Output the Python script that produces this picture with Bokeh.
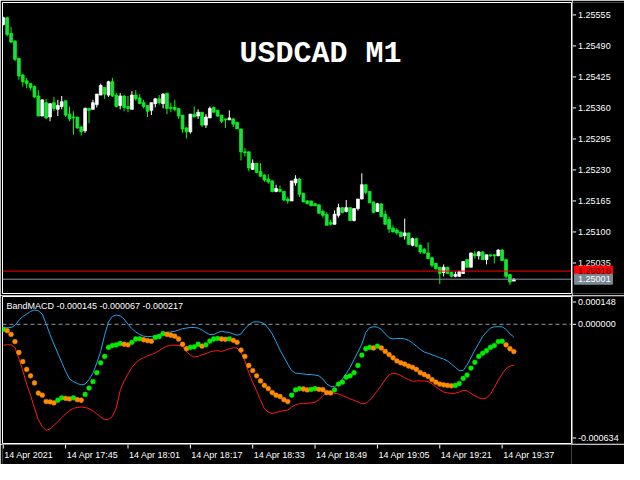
import numpy as np
from bokeh.plotting import figure
from bokeh.layouts import column, row
from bokeh.models import Range1d, Span, Label, ColumnDataSource
from bokeh.core.properties import value
from bokeh.embed import file_html
from bokeh.resources import INLINE

# ---------------- data ----------------
symbol_title = "USDCAD M1"
indicator_name = "BandMACD"

opens = [1.25535, 1.25549, 1.25516, 1.25500, 1.25464, 1.25429, 1.25417, 1.25411, 1.25405, 1.25385,
         1.25343, 1.25371, 1.25341, 1.25371, 1.25357, 1.25363, 1.25375, 1.25347, 1.25341, 1.25341,
         1.25320, 1.25312, 1.25359, 1.25357, 1.25367, 1.25387, 1.25403, 1.25387, 1.25415, 1.25387,
         1.25365, 1.25385, 1.25363, 1.25357, 1.25387, 1.25381, 1.25371, 1.25365, 1.25355, 1.25369,
         1.25379, 1.25369, 1.25391, 1.25361, 1.25361, 1.25359, 1.25345, 1.25318, 1.25310, 1.25347,
         1.25343, 1.25351, 1.25324, 1.25339, 1.25361, 1.25355, 1.25345, 1.25337, 1.25335, 1.25337,
         1.25330, 1.25316, 1.25268, 1.25268, 1.25231, 1.25244, 1.25227, 1.25219, 1.25211, 1.25207,
         1.25185, 1.25189, 1.25185, 1.25169, 1.25165, 1.25203, 1.25211, 1.25181, 1.25165, 1.25165,
         1.25159, 1.25157, 1.25143, 1.25137, 1.25120, 1.25116, 1.25135, 1.25151, 1.25143, 1.25151,
         1.25124, 1.25149, 1.25169, 1.25199, 1.25185, 1.25163, 1.25143, 1.25159, 1.25137, 1.25126,
         1.25108, 1.25104, 1.25100, 1.25092, 1.25098, 1.25072, 1.25086, 1.25072, 1.25064, 1.25056,
         1.25046, 1.25034, 1.25026, 1.25015, 1.25026, 1.25015, 1.25007, 1.25007, 1.25013, 1.25042,
         1.25026, 1.25054, 1.25050, 1.25058, 1.25042, 1.25052, 1.25052, 1.25050, 1.25062, 1.25042,
         1.25011, 1.24997]
highs = [1.25551, 1.25551, 1.25530, 1.25502, 1.25464, 1.25431, 1.25423, 1.25411, 1.25407, 1.25397,
         1.25377, 1.25379, 1.25369, 1.25383, 1.25377, 1.25385, 1.25375, 1.25363, 1.25353, 1.25341,
         1.25322, 1.25361, 1.25359, 1.25377, 1.25389, 1.25411, 1.25403, 1.25417, 1.25423, 1.25391,
         1.25391, 1.25387, 1.25385, 1.25395, 1.25397, 1.25389, 1.25377, 1.25365, 1.25371, 1.25381,
         1.25387, 1.25391, 1.25391, 1.25371, 1.25377, 1.25359, 1.25345, 1.25320, 1.25347, 1.25363,
         1.25357, 1.25351, 1.25347, 1.25363, 1.25363, 1.25355, 1.25345, 1.25337, 1.25355, 1.25339,
         1.25330, 1.25316, 1.25276, 1.25268, 1.25252, 1.25244, 1.25244, 1.25221, 1.25221, 1.25209,
         1.25199, 1.25197, 1.25185, 1.25173, 1.25207, 1.25219, 1.25213, 1.25181, 1.25167, 1.25165,
         1.25161, 1.25157, 1.25147, 1.25141, 1.25126, 1.25145, 1.25159, 1.25151, 1.25167, 1.25151,
         1.25149, 1.25169, 1.25223, 1.25199, 1.25185, 1.25163, 1.25161, 1.25159, 1.25145, 1.25132,
         1.25114, 1.25108, 1.25100, 1.25128, 1.25098, 1.25088, 1.25088, 1.25074, 1.25066, 1.25078,
         1.25048, 1.25036, 1.25026, 1.25032, 1.25027, 1.25017, 1.25017, 1.25019, 1.25038, 1.25044,
         1.25056, 1.25060, 1.25060, 1.25060, 1.25052, 1.25052, 1.25052, 1.25064, 1.25064, 1.25044,
         1.25011, 1.25003]
lows = [1.25533, 1.25510, 1.25496, 1.25458, 1.25419, 1.25405, 1.25401, 1.25397, 1.25381, 1.25343,
        1.25343, 1.25337, 1.25332, 1.25353, 1.25343, 1.25357, 1.25341, 1.25332, 1.25304, 1.25316,
        1.25302, 1.25308, 1.25328, 1.25357, 1.25361, 1.25387, 1.25379, 1.25383, 1.25383, 1.25361,
        1.25357, 1.25353, 1.25351, 1.25357, 1.25375, 1.25369, 1.25359, 1.25341, 1.25345, 1.25361,
        1.25367, 1.25359, 1.25347, 1.25351, 1.25353, 1.25337, 1.25308, 1.25296, 1.25306, 1.25341,
        1.25337, 1.25320, 1.25318, 1.25339, 1.25351, 1.25341, 1.25328, 1.25318, 1.25335, 1.25320,
        1.25316, 1.25250, 1.25258, 1.25227, 1.25231, 1.25223, 1.25215, 1.25205, 1.25201, 1.25183,
        1.25183, 1.25183, 1.25165, 1.25159, 1.25165, 1.25197, 1.25173, 1.25163, 1.25159, 1.25155,
        1.25155, 1.25139, 1.25130, 1.25114, 1.25114, 1.25116, 1.25130, 1.25139, 1.25141, 1.25124,
        1.25122, 1.25145, 1.25169, 1.25179, 1.25161, 1.25139, 1.25143, 1.25132, 1.25116, 1.25098,
        1.25100, 1.25094, 1.25090, 1.25084, 1.25074, 1.25070, 1.25068, 1.25054, 1.25054, 1.25044,
        1.25026, 1.25021, 1.24991, 1.25007, 1.25013, 1.25005, 1.25005, 1.25007, 1.25013, 1.25026,
        1.25026, 1.25044, 1.25042, 1.25042, 1.25032, 1.25048, 1.25034, 1.25050, 1.25040, 1.25003,
        1.24989, 1.24997]
closes = [1.25549, 1.25514, 1.25498, 1.25462, 1.25427, 1.25415, 1.25411, 1.25403, 1.25383, 1.25343,
          1.25377, 1.25339, 1.25369, 1.25359, 1.25365, 1.25373, 1.25345, 1.25337, 1.25339, 1.25318,
          1.25310, 1.25359, 1.25355, 1.25371, 1.25389, 1.25407, 1.25389, 1.25415, 1.25385, 1.25363,
          1.25385, 1.25361, 1.25359, 1.25387, 1.25379, 1.25369, 1.25363, 1.25353, 1.25371, 1.25379,
          1.25371, 1.25389, 1.25359, 1.25359, 1.25357, 1.25343, 1.25316, 1.25310, 1.25347, 1.25341,
          1.25351, 1.25324, 1.25341, 1.25359, 1.25351, 1.25343, 1.25332, 1.25335, 1.25339, 1.25326,
          1.25316, 1.25268, 1.25266, 1.25234, 1.25244, 1.25225, 1.25217, 1.25209, 1.25205, 1.25185,
          1.25191, 1.25185, 1.25167, 1.25165, 1.25207, 1.25211, 1.25179, 1.25163, 1.25159, 1.25155,
          1.25155, 1.25139, 1.25135, 1.25114, 1.25116, 1.25137, 1.25151, 1.25141, 1.25151, 1.25124,
          1.25149, 1.25169, 1.25199, 1.25183, 1.25161, 1.25141, 1.25159, 1.25132, 1.25116, 1.25106,
          1.25100, 1.25098, 1.25090, 1.25098, 1.25074, 1.25086, 1.25070, 1.25058, 1.25056, 1.25044,
          1.25030, 1.25023, 1.25013, 1.25026, 1.25013, 1.25007, 1.25011, 1.25017, 1.25038, 1.25026,
          1.25056, 1.25050, 1.25058, 1.25042, 1.25052, 1.25050, 1.25050, 1.25062, 1.25040, 1.25007,
          1.24995, 1.25001]

ask_price = 1.25018
bid_price = 1.25001

# BandMACD: main value, upper band, lower band (one per bar)
macd = [-0.000027, -0.000034, -0.000054, -0.000092, -0.000150, -0.000198, -0.000240, -0.000274, -0.000312, -0.000366,
        -0.000377, -0.000411, -0.000413, -0.000418, -0.000404, -0.000391, -0.000394, -0.000397, -0.000391, -0.000401,
        -0.000404, -0.000373, -0.000339, -0.000305, -0.000257, -0.000205, -0.000171, -0.000123, -0.000113, -0.000109,
        -0.000102, -0.000106, -0.000109, -0.000096, -0.000078, -0.000077, -0.000082, -0.000087, -0.000090, -0.000070,
        -0.000065, -0.000049, -0.000054, -0.000058, -0.000063, -0.000078, -0.000106, -0.000130, -0.000123, -0.000120,
        -0.000106, -0.000116, -0.000109, -0.000089, -0.000078, -0.000075, -0.000078, -0.000080, -0.000077, -0.000085,
        -0.000096, -0.000137, -0.000171, -0.000219, -0.000246, -0.000274, -0.000301, -0.000325, -0.000342, -0.000363,
        -0.000377, -0.000384, -0.000401, -0.000411, -0.000377, -0.000349, -0.000342, -0.000344, -0.000349, -0.000346,
        -0.000342, -0.000346, -0.000348, -0.000363, -0.000365, -0.000349, -0.000318, -0.000308, -0.000281, -0.000274,
        -0.000257, -0.000219, -0.000164, -0.000130, -0.000123, -0.000126, -0.000116, -0.000126, -0.000144, -0.000161,
        -0.000178, -0.000195, -0.000205, -0.000212, -0.000222, -0.000229, -0.000240, -0.000257, -0.000267, -0.000277,
        -0.000294, -0.000308, -0.000318, -0.000322, -0.000325, -0.000327, -0.000325, -0.000315, -0.000288, -0.000270,
        -0.000233, -0.000202, -0.000171, -0.000154, -0.000140, -0.000123, -0.000113, -0.000092, -0.000090, -0.000109,
        -0.000130, -0.000145]
upper = [-0.000018, -0.000018, -0.000017, -0.000006, 0.000021, 0.000042, 0.000054, 0.000069, 0.000076, 0.000072,
         0.000054, 0.000002, -0.000054, -0.000106, -0.000154, -0.000202, -0.000250, -0.000291, -0.000305, -0.000315,
         -0.000322, -0.000318, -0.000294, -0.000260, -0.000205, -0.000144, -0.000058, 0.000014, 0.000042, 0.000049,
         0.000045, 0.000028, 0.000000, -0.000023, -0.000041, -0.000054, -0.000063, -0.000065, -0.000065, -0.000061,
         -0.000054, -0.000048, -0.000042, -0.000041, -0.000037, -0.000030, -0.000023, -0.000020, -0.000017, -0.000017,
         -0.000020, -0.000030, -0.000044, -0.000054, -0.000054, -0.000044, -0.000037, -0.000041, -0.000044, -0.000051,
         -0.000058, -0.000051, -0.000023, -0.000003, 0.000011, 0.000014, 0.000011, 0.000004, -0.000020, -0.000051,
         -0.000092, -0.000137, -0.000174, -0.000212, -0.000246, -0.000260, -0.000262, -0.000264, -0.000267, -0.000267,
         -0.000270, -0.000274, -0.000291, -0.000318, -0.000330, -0.000332, -0.000318, -0.000291, -0.000262, -0.000229,
         -0.000188, -0.000147, -0.000106, -0.000044, -0.000018, -0.000013, -0.000015, -0.000027, -0.000051, -0.000071,
         -0.000078, -0.000075, -0.000075, -0.000078, -0.000085, -0.000099, -0.000116, -0.000133, -0.000147, -0.000154,
         -0.000162, -0.000169, -0.000178, -0.000185, -0.000195, -0.000212, -0.000229, -0.000246, -0.000246, -0.000216,
         -0.000178, -0.000137, -0.000102, -0.000065, -0.000041, -0.000020, -0.000013, -0.000013, -0.000013, -0.000027,
         -0.000051, -0.000067]
lower = [-0.000111, -0.000109, -0.000109, -0.000123, -0.000181, -0.000246, -0.000318, -0.000377, -0.000445, -0.000507,
         -0.000545, -0.000564, -0.000557, -0.000538, -0.000517, -0.000497, -0.000476, -0.000459, -0.000447, -0.000442,
         -0.000440, -0.000442, -0.000449, -0.000461, -0.000476, -0.000493, -0.000507, -0.000507, -0.000490, -0.000444,
         -0.000353, -0.000301, -0.000264, -0.000229, -0.000204, -0.000188, -0.000178, -0.000168, -0.000161, -0.000152,
         -0.000140, -0.000126, -0.000116, -0.000111, -0.000111, -0.000113, -0.000116, -0.000144, -0.000164, -0.000174,
         -0.000171, -0.000162, -0.000156, -0.000147, -0.000142, -0.000140, -0.000144, -0.000138, -0.000130, -0.000125,
         -0.000126, -0.000147, -0.000195, -0.000257, -0.000308, -0.000353, -0.000404, -0.000449, -0.000466, -0.000475,
         -0.000469, -0.000463, -0.000459, -0.000456, -0.000440, -0.000428, -0.000423, -0.000421, -0.000420, -0.000418,
         -0.000415, -0.000401, -0.000380, -0.000363, -0.000363, -0.000367, -0.000370, -0.000379, -0.000387, -0.000397,
         -0.000404, -0.000413, -0.000423, -0.000420, -0.000404, -0.000380, -0.000353, -0.000325, -0.000294, -0.000269,
         -0.000260, -0.000264, -0.000272, -0.000284, -0.000294, -0.000303, -0.000301, -0.000301, -0.000301, -0.000305,
         -0.000317, -0.000332, -0.000348, -0.000360, -0.000365, -0.000367, -0.000367, -0.000360, -0.000351, -0.000353,
         -0.000367, -0.000380, -0.000391, -0.000397, -0.000391, -0.000372, -0.000336, -0.000298, -0.000264, -0.000236,
         -0.000222, -0.000217]

# scales / ticks
price_ticks = [1.25555, 1.25490, 1.25425, 1.25360, 1.25295, 1.25230, 1.25165, 1.25100, 1.25035]
price_min, price_max = 1.24971, 1.25581
ind_min, ind_max = -0.000634, 0.000148
time_tick_bars = [0, 16, 32, 48, 64, 80, 96, 112, 128]
time_tick_labels = ["14 Apr 2021", "14 Apr 17:45", "14 Apr 18:01", "14 Apr 18:17", "14 Apr 18:33",
                    "14 Apr 18:49", "14 Apr 19:05", "14 Apr 19:21", "14 Apr 19:37"]

# ---------------- common styling ----------------
FONT = "Liberation Sans"
FS = "9px"
FW = 569          # plot-area width
SW = 52           # price-scale strip width
x_range = Range1d(-0.2, 145.8)
BG = "black"


def base_fig(**kw):
    f = figure(output_backend="svg", toolbar_location=None,
               background_fill_color=BG, border_fill_color=BG,
               x_axis_location=None, y_axis_location=None, **kw)
    f.grid.visible = False
    return f


def scale_strip(y_range, frame_h, top, bottom):
    return base_fig(frame_width=SW, frame_height=frame_h, x_range=Range1d(0, SW), y_range=y_range,
                    min_border_left=0, min_border_right=0, min_border_top=top, min_border_bottom=bottom,
                    outline_line_color=None)


def add_scale_labels(s, ticks, texts):
    ts = ColumnDataSource(dict(y=ticks, t=texts, x0=[0.0] * len(ticks), x1=[3.6] * len(ticks),
                               xt=[5.6] * len(ticks)))
    s.segment(x0="x0", y0="y", x1="x1", y1="y", source=ts, line_color="white", line_width=1)
    s.text(x="xt", y="y", text="t", source=ts, text_color="white", text_font=value(FONT),
           text_font_size=FS, text_baseline="middle", text_align="left")


# ---------------- price pane ----------------
n = len(opens)
xs = np.arange(n)
o = np.array(opens); h = np.array(highs); l = np.array(lows); c = np.array(closes)
bull = c > o
src = ColumnDataSource(dict(x=xs, h=h, l=l, top=np.maximum(o, c), bottom=np.minimum(o, c),
                            col=np.where(bull, "#ffffff", "#00ff00"),
                            bcol=np.where(bull, "#ffffff", "#1fd655")))

p1 = base_fig(frame_width=FW, frame_height=291, x_range=x_range, y_range=Range1d(price_min, price_max),
              min_border_left=2, min_border_right=1, min_border_top=2, min_border_bottom=2,
              outline_line_color="white", outline_line_width=1)
p1.segment(x0="x", y0="h", x1="x", y1="l", color="col", line_width=1, source=src)
p1.vbar(x="x", width=0.72, top="top", bottom="bottom", fill_color="bcol",
        line_color="col", line_width=0.8, source=src)
p1.add_layout(Span(location=ask_price, dimension="width", line_color="#ff0000", line_width=1))
p1.add_layout(Span(location=bid_price, dimension="width", line_color="#8a97a6", line_width=1))
p1.add_layout(Label(x=60.6, y=1.25472, text=symbol_title, text_color="white",
                    text_font="Liberation Mono", text_font_size="30px",
                    text_font_style="bold", text_baseline="alphabetic", text_align="left"))

s1 = scale_strip(p1.y_range, 291, 2, 2)
add_scale_labels(s1, price_ticks, [f"{t:.5f}" for t in price_ticks])
qs = ColumnDataSource(dict(y=[ask_price, bid_price], t=[f"{ask_price:.5f}", f"{bid_price:.5f}"],
                           fill=["#ff0000", "#7a8896"], tc=["#4a0000", "#ffffff"],
                           xc=[21.0, 21.0], xt=[5.6, 5.6]))
s1.rect(x="xc", y="y", width=38, height=10, height_units="screen", source=qs,
        fill_color="fill", line_color="fill")
s1.text(x="xt", y="y", text="t", source=qs, text_color="tc", text_font=value(FONT),
        text_font_size=FS, text_baseline="middle", text_align="left")

# ---------------- indicator pane ----------------
m = np.array(macd)
rising = np.concatenate([[True], m[1:] > m[:-1]])
isrc = ColumnDataSource(dict(x=xs, m=m, up=np.array(upper), lo=np.array(lower),
                             col=np.where(rising, "#00ee00", "#ff8c00")))

p2 = base_fig(frame_width=FW, frame_height=147, x_range=x_range, y_range=Range1d(ind_min, ind_max),
              min_border_left=2, min_border_right=1, min_border_top=1, min_border_bottom=1,
              outline_line_color="white", outline_line_width=1)
p2.add_layout(Span(location=0, dimension="width", line_color="#8c96a0", line_dash="4 3", line_width=1))
p2.line("x", "up", source=isrc, color="#1ea5f0", line_width=1)
p2.line("x", "lo", source=isrc, color="#ff1a1a", line_width=1)
p2.scatter("x", "m", source=isrc, size=4.8, fill_color="col", line_color="col", line_width=0.5)
p2.add_layout(Label(x=0.8, y=0.000099,
                    text=f"{indicator_name} {macd[-1]:.6f} {upper[-1]:.6f} {lower[-1]:.6f}",
                    text_color="white", text_font=FONT, text_font_size=FS,
                    text_baseline="middle", text_align="left"))

inset = 0.0375 * (ind_max - ind_min)
s2 = scale_strip(p2.y_range, 147, 1, 1)
add_scale_labels(s2, [ind_max - inset, 0.0, ind_min + inset],
                 [f"{ind_max:.6f}", "0.000000", f"{ind_min:.6f}"])

# ---------------- time scale ----------------
p3 = base_fig(frame_width=FW, frame_height=20, x_range=x_range, y_range=Range1d(0, 20),
              min_border_left=2, min_border_right=1 + SW, min_border_top=0, min_border_bottom=0,
              outline_line_color=None)
tsrc = ColumnDataSource(dict(x=time_tick_bars, t=time_tick_labels,
                             y0=[20.0] * len(time_tick_bars), y1=[16.0] * len(time_tick_bars),
                             yt=[9.4] * len(time_tick_bars)))
p3.segment(x0="x", y0="y0", x1="x", y1="y1", source=tsrc, line_color="white", line_width=1)
p3.text(x="x", y="yt", text="t", source=tsrc, text_color="white", text_font=value(FONT),
        text_font_size=FS, text_baseline="alphabetic", text_align="left", x_offset=1)

layout = column(row(p1, s1, spacing=0), row(p2, s2, spacing=0), p3, spacing=0)
open("out.html", "w").write(file_html(layout, INLINE))
